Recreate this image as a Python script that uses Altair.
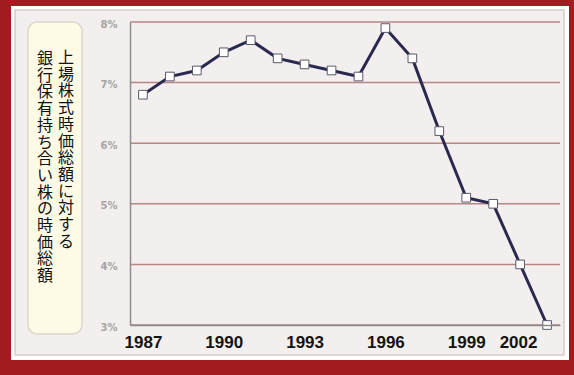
import altair as alt
import pandas as pd

# Share of bank cross-held stock value in total listed market value (%)
years = [1987, 1988, 1989, 1990, 1991, 1992, 1993, 1994,
         1995, 1996, 1997, 1998, 1999, 2000, 2001, 2002]
shares = [6.8, 7.1, 7.2, 7.5, 7.7, 7.4, 7.3, 7.2,
          7.1, 7.9, 7.4, 6.2, 5.1, 5.0, 4.0, 3.0]
year_ticks = [1987, 1990, 1993, 1996, 1999, 2002]
pct_ticks = [3, 4, 5, 6, 7, 8]
title_right = "上場株式時価総額に対する"
title_left = "銀行保有持ち合い株の時価総額"

df = pd.DataFrame({"year": years, "share": shares})
grid_df = pd.DataFrame({"v": pct_ticks})
one = alt.Data(values=[{}])

x_scale = alt.Scale(domain=[1986.52, 2002.48], nice=False, zero=False)
y_scale = alt.Scale(domain=[3, 8], nice=False, zero=False)

x_enc = alt.X(
    "year:Q", scale=x_scale, title=None,
    axis=alt.Axis(
        values=year_ticks, format="d", grid=False, ticks=False,
        domainColor="#8c8c8c", domainWidth=1.5,
        labelFont="Liberation Sans", labelFontWeight="bold", labelFontSize=17,
        labelColor="#141414", labelPadding=9, labelFlush=False, zindex=1,
        labelOffset={"condition": {"test": "datum.value == 2002", "value": -29}, "value": 0},
    ),
)
y_enc = alt.Y(
    "share:Q", scale=y_scale, title=None,
    axis=alt.Axis(
        values=pct_ticks, labelExpr="datum.value + '%'", grid=False, ticks=False,
        domainColor="#8c8c8c", domainWidth=1.5,
        labelFont="DejaVu Sans", labelFontWeight="bold", labelFontSize=10,
        labelColor="#a5a5a5", labelPadding=13, labelOffset=2, zindex=1,
    ),
)

# Frame: white card, light inner panel, cream caption box
card = alt.Chart(one).mark_rect(fill="#ffffff").encode(
    x=alt.value(-119), x2=alt.value(439), y=alt.value(-16), y2=alt.value(338))
panel = alt.Chart(one).mark_rect(fill="#f3efee", stroke="#d9cccc", strokeWidth=1.5).encode(
    x=alt.value(-115), x2=alt.value(434), y=alt.value(-12), y2=alt.value(333))
box = alt.Chart(one).mark_rect(
    fill="#fdfbe6", stroke="#dcd8cc", strokeWidth=1.5, cornerRadius=9).encode(
    x=alt.value(-102), x2=alt.value(-48), y=alt.value(0), y2=alt.value(312))

# Vertical caption, one character per line
caption_r = alt.Chart(one).mark_text(
    text=list(title_right), font="Noto Sans CJK JP", fontSize=16, lineHeight=16.7,
    baseline="top", align="center", color="#111111").encode(
    x=alt.value(-64), y=alt.value(28))
caption_l = alt.Chart(one).mark_text(
    text=list(title_left), font="Noto Sans CJK JP", fontSize=16, lineHeight=16.7,
    baseline="top", align="center", color="#111111").encode(
    x=alt.value(-85), y=alt.value(29))

grid = alt.Chart(grid_df).mark_rule(color="#b88686", strokeWidth=1.5).encode(
    y=alt.Y("v:Q", scale=y_scale))

line = alt.Chart(df).mark_line(color="#2c2950", strokeWidth=3).encode(x=x_enc, y=y_enc)
points = alt.Chart(df).mark_point(
    shape="square", size=75, filled=True, fill="#ffffff", stroke="#5a5a6a",
    strokeWidth=1, opacity=1).encode(x="year:Q", y="share:Q")

chart = alt.layer(card, panel, box, caption_r, caption_l, grid, line, points).properties(
    width=430, height=303,
    padding={"left": 130, "top": 22, "right": 14, "bottom": 50},
    autosize=alt.AutoSizeParams(type="none"),
    background="#a31a21",
).configure_view(stroke=None)

chart.save("out.html", embed_options={"renderer": "svg", "actions": False})
